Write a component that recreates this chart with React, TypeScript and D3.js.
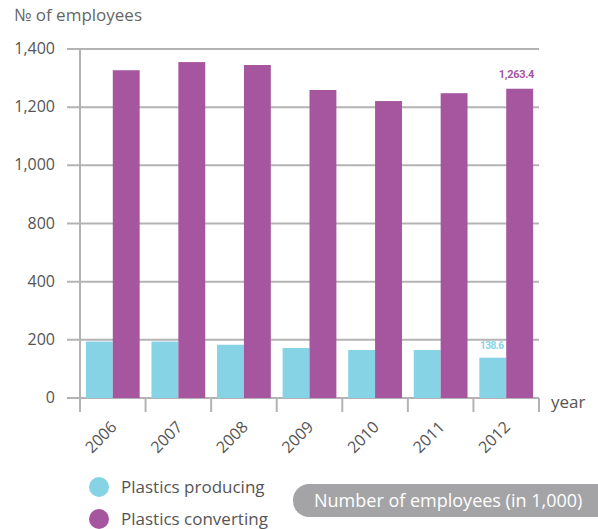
import React, { useEffect, useRef } from "react";
import * as d3 from "d3";

// data
const years = ["2006", "2007", "2008", "2009", "2010", "2011", "2012"];
const producing = [194, 194, 183, 172, 165, 165, 138.6];
const converting = [1327, 1355, 1345, 1259, 1221, 1248, 1263.4];
// the y axis skips 600, every tick sits at an even step
const yTicks = [0, 200, 400, 800, 1000, 1200, 1400];
const seriesNames = ["Plastics producing", "Plastics converting"];
const seriesColors = ["#85d3e5", "#a6559f"];

const W = 598;
const H = 529;
const FONT = "'Open Sans', 'DejaVu Sans', sans-serif";

const App: React.FC = () => {
  const svgRef = useRef<SVGSVGElement>(null);

  useEffect(() => {
    document.body.style.margin = "0";
    if (!svgRef.current) return;
    const svg = d3.select(svgRef.current);
    svg.selectAll("*").remove();

    const left = 80;
    const right = 539;
    const top = 49;
    const bottom = 398;
    const grey = "#b3b3b3";

    // broken axis: piecewise linear over evenly spaced ticks
    const step = (bottom - top) / (yTicks.length - 1);
    const y = d3
      .scaleLinear()
      .domain(yTicks)
      .range(yTicks.map((_, i) => bottom - i * step));

    const x = d3
      .scaleBand<string>()
      .domain(years)
      .range([left, right])
      .paddingInner(0.18)
      .paddingOuter(0.09);
    const xSub = d3
      .scaleBand<number>()
      .domain([0, 1])
      .range([0, x.bandwidth()]);

    // title
    svg
      .append("text")
      .attr("x", 14)
      .attr("y", 21)
      .style("font-family", FONT)
      .style("font-size", "17px")
      .style("fill", "#666")
      .text("№ of employees");

    // grid lines
    svg
      .append("g")
      .selectAll("line")
      .data(yTicks)
      .enter()
      .append("line")
      .attr("x1", 67)
      .attr("x2", right)
      .attr("y1", (d) => y(d))
      .attr("y2", (d) => y(d))
      .attr("stroke", grey)
      .attr("stroke-width", 2);

    // y labels
    svg
      .append("g")
      .selectAll("text")
      .data(yTicks)
      .enter()
      .append("text")
      .attr("x", 55)
      .attr("y", (d) => y(d) + 5)
      .attr("text-anchor", "end")
      .style("font-family", FONT)
      .style("font-size", "16px")
      .style("fill", "#555")
      .text((d) => d3.format(",")(d));

    // bars
    const groups = svg
      .append("g")
      .selectAll("g")
      .data(years)
      .enter()
      .append("g")
      .attr("transform", (d) => `translate(${x(d)},0)`);

    groups
      .selectAll("rect")
      .data((_, i) => [producing[i], converting[i]])
      .enter()
      .append("rect")
      .attr("x", (_, j) => xSub(j) as number)
      .attr("width", xSub.bandwidth())
      .attr("y", (d) => y(d))
      .attr("height", (d) => bottom - y(d))
      .attr("fill", (_, j) => seriesColors[j]);

    // axis lines and ticks
    svg
      .append("line")
      .attr("x1", left)
      .attr("x2", left)
      .attr("y1", top - 1)
      .attr("y2", 412)
      .attr("stroke", grey)
      .attr("stroke-width", 2);

    const stepX = x.step();
    svg
      .append("g")
      .selectAll("line")
      .data(years)
      .enter()
      .append("line")
      .attr("x1", (_, i) => left + (i + 1) * stepX)
      .attr("x2", (_, i) => left + (i + 1) * stepX)
      .attr("y1", bottom)
      .attr("y2", 412)
      .attr("stroke", grey)
      .attr("stroke-width", 2);

    // x labels
    svg
      .append("g")
      .selectAll("text")
      .data(years)
      .enter()
      .append("text")
      .attr(
        "transform",
        (d) => `translate(${(x(d) as number) + x.bandwidth() / 2 + 5},428) rotate(-45)`
      )
      .attr("text-anchor", "end")
      .style("font-family", FONT)
      .style("font-size", "16px")
      .style("fill", "#555")
      .text((d) => d);

    svg
      .append("text")
      .attr("x", 551)
      .attr("y", 408)
      .style("font-family", FONT)
      .style("font-size", "17px")
      .style("fill", "#555")
      .text("year");

    // value labels for 2012
    const last = years.length - 1;
    const lastX = x(years[last]) as number;
    svg
      .append("text")
      .attr("x", lastX + (xSub(1) as number) + xSub.bandwidth() + 1)
      .attr("y", y(converting[last]) - 11)
      .attr("text-anchor", "end")
      .style("font-family", "Roboto, sans-serif")
      .style("font-size", "11px")
      .style("font-weight", "bold")
      .style("letter-spacing", "-0.3px")
      .style("fill", seriesColors[1])
      .text(d3.format(",.1f")(converting[last]));

    svg
      .append("text")
      .attr("x", lastX + xSub.bandwidth() / 2 - 1)
      .attr("y", y(producing[last]) - 9)
      .attr("text-anchor", "middle")
      .style("font-family", "Roboto, sans-serif")
      .style("font-size", "10px")
      .style("font-weight", "bold")
      .style("letter-spacing", "-0.5px")
      .style("fill", seriesColors[0])
      .text(d3.format(".1f")(producing[last]));

    // legend
    const legend = svg
      .append("g")
      .selectAll("g")
      .data(seriesNames)
      .enter()
      .append("g")
      .attr("transform", (_, i) => `translate(99,${487 + i * 32})`);
    legend
      .append("circle")
      .attr("r", 10)
      .attr("fill", (_, i) => seriesColors[i]);
    legend
      .append("text")
      .attr("x", 22)
      .attr("y", 6)
      .style("font-family", FONT)
      .style("font-size", "17px")
      .style("fill", "#555")
      .text((d) => d);

    // unit pill
    svg
      .append("rect")
      .attr("x", 293)
      .attr("y", 484)
      .attr("width", 330)
      .attr("height", 33)
      .attr("rx", 16)
      .attr("fill", "#a4a4a6");
    svg
      .append("text")
      .attr("x", 314)
      .attr("y", 507)
      .style("font-family", FONT)
      .style("font-size", "18px")
      .style("fill", "#fff")
      .text("Number of employees (in 1,000)");
  }, []);

  return <svg ref={svgRef} width={W} height={H} style={{ display: "block" }} />;
};

export default App;
